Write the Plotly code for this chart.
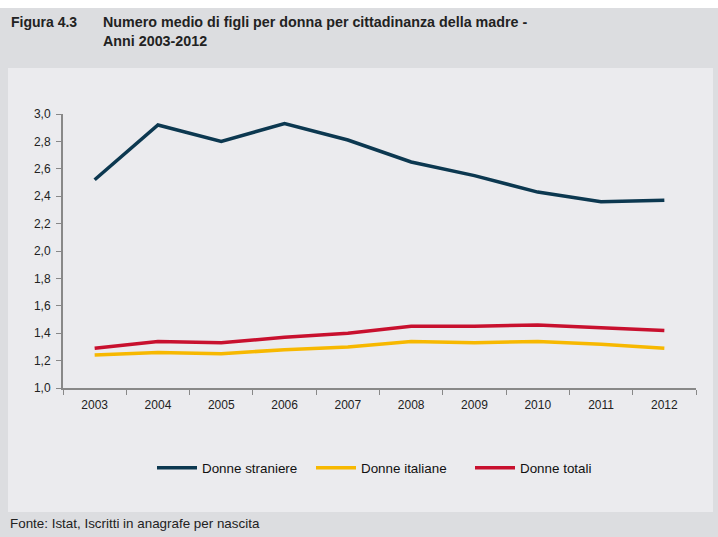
import plotly.graph_objects as go

years = ["2003", "2004", "2005", "2006", "2007", "2008", "2009", "2010", "2011", "2012"]
straniere = [2.52, 2.92, 2.80, 2.93, 2.81, 2.65, 2.55, 2.43, 2.36, 2.37]
italiane = [1.24, 1.26, 1.25, 1.28, 1.30, 1.34, 1.33, 1.34, 1.32, 1.29]
totali = [1.29, 1.34, 1.33, 1.37, 1.40, 1.45, 1.45, 1.46, 1.44, 1.42]
y_ticks = [1.0, 1.2, 1.4, 1.6, 1.8, 2.0, 2.2, 2.4, 2.6, 2.8, 3.0]
y_labels = [f"{v:.1f}".replace(".", ",") for v in y_ticks]

W, H = 718, 537
NARROW = "Liberation Sans Narrow, Arial Narrow, Liberation Sans, Arial, sans-serif"
REG = "Liberation Sans, Arial, sans-serif"

fig = go.Figure()
series = [("Donne straniere", straniere, "#0c3850"),
          ("Donne italiane", italiane, "#f7b800"),
          ("Donne totali", totali, "#c8102e")]
for name, vals, col in series:
    fig.add_trace(go.Scatter(x=years, y=vals, mode="lines", name=name,
                             line=dict(color=col, width=3.5)))

L, R, T, B = 63, 696, 114, 388


def px(x):
    return (x - L) / (R - L)


def py(y):
    return (B - y) / (B - T)


shapes = [
    dict(type="rect", xref="paper", yref="paper", x0=px(0), x1=px(718), y0=py(8), y1=py(0),
         fillcolor="white", line_width=0, layer="below"),
    dict(type="rect", xref="paper", yref="paper", x0=px(8), x1=px(713), y0=py(512), y1=py(68),
         fillcolor="#ebebee", line_width=0, layer="below"),
]

annotations = [
    dict(text="<b>Figura 4.3</b>", xref="paper", yref="paper", x=px(9), y=py(12),
         xanchor="left", yanchor="top", showarrow=False,
         font=dict(family=NARROW, size=14, color="#222")),
    dict(text="<b>Numero medio di figli per donna per cittadinanza della madre -<br>Anni 2003-2012</b>",
         xref="paper", yref="paper", x=px(101), y=py(12), xanchor="left", yanchor="top",
         showarrow=False, align="left",
         font=dict(family=NARROW, size=14.3, color="#222")),
    dict(text="Fonte: Istat, Iscritti in anagrafe per nascita", xref="paper", yref="paper",
         x=px(8), y=py(523), xanchor="left", yanchor="middle", showarrow=False,
         font=dict(family=NARROW, size=13.4, color="#222")),
]

fig.update_layout(
    width=W, height=H,
    margin=dict(l=L, r=W - R, t=T, b=H - B, pad=0),
    paper_bgcolor="#dcdde0",
    plot_bgcolor="#ebebee",
    showlegend=True,
    legend=dict(orientation="h", x=px(152), xanchor="left", y=py(468), yanchor="middle",
                font=dict(family=NARROW, size=13.4, color="#111"),
                bgcolor="rgba(0,0,0,0)", tracegroupgap=0, itemwidth=40,
                entrywidthmode="pixels", entrywidth=104),
    shapes=shapes,
    annotations=annotations,
    xaxis=dict(type="category", range=[-0.5, 9.5], tickson="boundaries", ticks="outside", ticklen=5,
               tickcolor="#888", showline=True, linecolor="#888", linewidth=2,
               showgrid=False, zeroline=False, fixedrange=True, ticklabelstandoff=5,
               tickfont=dict(family=REG, size=12, color="#222")),
    yaxis=dict(range=[1.0, 3.0], tickvals=y_ticks, ticktext=y_labels,
               ticks="outside", ticklen=5, tickcolor="#888",
               showline=True, linecolor="#888", linewidth=2,
               showgrid=False, zeroline=False, fixedrange=True, ticklabelstandoff=3,
               tickfont=dict(family=REG, size=12, color="#222")),
)

fig.write_html("out.html", config={"displayModeBar": False},
               post_script="document.body.style.margin='0';document.body.style.padding='0';")
